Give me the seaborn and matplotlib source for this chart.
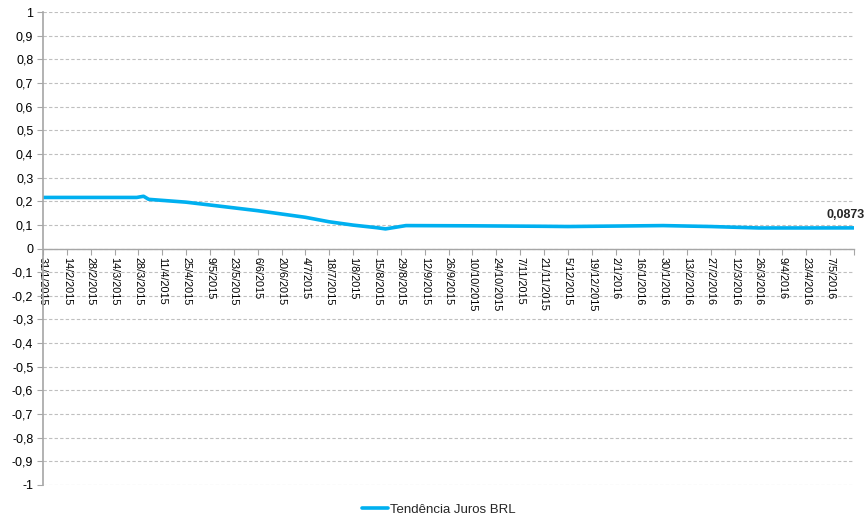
import matplotlib
matplotlib.use("Agg")
import matplotlib.pyplot as plt
import matplotlib.dates as mdates
from matplotlib.ticker import FixedLocator, FuncFormatter
import seaborn as sns
import pandas as pd
import numpy as np

# Trend series of BRL interest rates
dates = ["2015-01-31", "2015-03-27", "2015-03-31", "2015-04-03", "2015-04-25",
         "2015-06-06", "2015-07-04", "2015-07-18", "2015-08-01", "2015-08-15",
         "2015-08-20", "2015-09-01", "2015-10-10", "2015-11-21", "2015-12-05",
         "2016-01-02", "2016-01-30", "2016-02-27", "2016-03-26", "2016-04-23",
         "2016-05-21"]
values = [0.216, 0.216, 0.221, 0.208, 0.196,
          0.160, 0.132, 0.113, 0.099, 0.088,
          0.083, 0.097, 0.096, 0.094, 0.093,
          0.095, 0.097, 0.093, 0.087, 0.087,
          0.0873]
series_name = "Tendência Juros BRL"
last_label = "0,0873"
y_ticks = [round(v, 1) for v in np.arange(-1.0, 1.01, 0.1)]

df = pd.DataFrame({"data": pd.to_datetime(dates), "valor": values, "serie": series_name})

sns.set_theme(style="white")
plt.rcParams["font.family"] = ["Liberation Sans", "DejaVu Sans"]

fig = plt.figure(figsize=(8.66, 5.22), dpi=100)
ax = fig.add_axes([0.0497, 0.0709, 0.9365, 0.906])

line_color = "#00B0F0"
sns.lineplot(data=df, x="data", y="valor", hue="serie", palette=[line_color],
             linewidth=2.6, ax=ax, legend=True)

start = pd.Timestamp("2015-01-31")
end = pd.Timestamp("2016-05-21")
ax.set_xlim(start, end)
ax.set_ylim(-1, 1)

# horizontal dashed gridlines
for v in y_ticks:
    ax.axhline(v, color="#BFBFBF", linestyle=(0, (3, 2)), linewidth=0.8, zorder=0)


def fmt_y(v, p):
    v = round(v, 1)
    if abs(v) < 1e-9:
        return "0"
    return ("%g" % v).replace(".", ",")


ax.set_yticks(y_ticks)
ax.yaxis.set_major_formatter(FuncFormatter(fmt_y))

tick_dates = pd.date_range("2015-01-31", "2016-05-07", freq="14D")
ax.xaxis.set_major_locator(FixedLocator(mdates.date2num(tick_dates)))
ax.xaxis.set_minor_locator(FixedLocator([mdates.date2num(end)]))
ax.xaxis.set_major_formatter(FuncFormatter(
    lambda v, p: (lambda d: f"{d.day}/{d.month}/{d.year}")(mdates.num2date(v))))

for s in ["top", "right"]:
    ax.spines[s].set_visible(False)
ax.spines["left"].set_color("#A6A6A6")
ax.spines["left"].set_linewidth(1.2)
ax.spines["bottom"].set_position(("data", 0))
ax.spines["bottom"].set_color("#A6A6A6")
ax.spines["bottom"].set_linewidth(1.0)

ax.tick_params(axis="y", which="major", direction="out", length=4, width=0.8,
               color="#A6A6A6", labelsize=9, pad=3, left=True, labelcolor="#000000")
ax.tick_params(axis="x", which="both", direction="out", length=4, width=0.8,
               color="#A6A6A6", labelsize=7.8, pad=2, bottom=True, labelcolor="#000000")
for lab in ax.get_xticklabels():
    lab.set_rotation(270)
    lab.set_ha("center")
    lab.set_va("top")

ax.set_xlabel("")
ax.set_ylabel("")

ax.annotate(last_label, (mdates.date2num(df["data"].iloc[-1]), df["valor"].iloc[-1]),
            xytext=(7.5, 5), textcoords="offset points", ha="right", va="bottom",
            fontsize=9, fontweight="bold", annotation_clip=False)

handles, labels = ax.get_legend_handles_labels()
ax.get_legend().remove()
leg = fig.legend(handles, labels, loc="center", bbox_to_anchor=(0.507, 0.023),
                 frameon=False, fontsize=9.5, handlelength=2.0, handletextpad=0.15)
for h in leg.get_lines():
    h.set_linewidth(2.6)

fig.savefig("out.png", dpi=100)
